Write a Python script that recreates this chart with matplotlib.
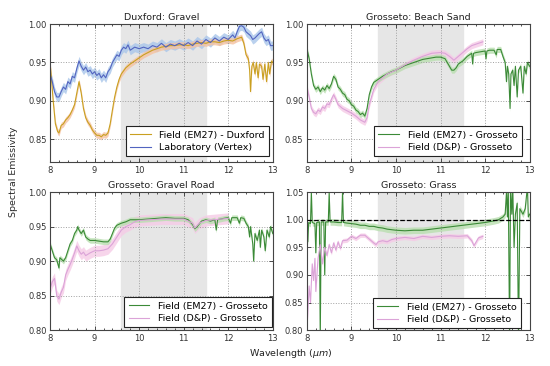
import matplotlib
matplotlib.use("Agg")
import matplotlib.pyplot as plt
from matplotlib.ticker import FormatStrFormatter, MultipleLocator
import numpy as np

# ---------------- data ----------------
dux_em27_x = [8.00, 8.03, 8.07, 8.12, 8.17, 8.20, 8.25, 8.30, 8.35, 8.40, 8.45, 8.50, 8.55, 8.60, 8.65,
              8.70, 8.75, 8.80, 8.85, 8.90, 8.95, 9.00, 9.05, 9.10, 9.15, 9.20, 9.25, 9.30, 9.35, 9.40,
              9.45, 9.50, 9.55, 9.60, 9.70, 9.80, 9.90, 10.00, 10.10, 10.20, 10.30, 10.40, 10.50, 10.60,
              10.70, 10.80, 10.90, 11.00, 11.10, 11.20, 11.30, 11.40, 11.50, 11.60, 11.70, 11.80, 11.90,
              12.00, 12.10, 12.20, 12.30, 12.35, 12.40, 12.45, 12.48, 12.50, 12.53, 12.56, 12.60, 12.63,
              12.67, 12.70, 12.75, 12.78, 12.82, 12.86, 12.90, 12.93, 12.97, 13.00]
dux_em27_y = [0.950, 0.930, 0.900, 0.870, 0.860, 0.858, 0.868, 0.870, 0.875, 0.878, 0.882, 0.888, 0.895, 0.910, 0.925,
              0.910, 0.890, 0.878, 0.872, 0.868, 0.862, 0.858, 0.855, 0.855, 0.853, 0.856, 0.855, 0.858, 0.870, 0.888,
              0.905, 0.918, 0.928, 0.935, 0.943, 0.948, 0.952, 0.956, 0.960, 0.963, 0.966, 0.968, 0.970, 0.971,
              0.972, 0.972, 0.973, 0.973, 0.972, 0.974, 0.975, 0.976, 0.975, 0.977, 0.977, 0.976, 0.978,
              0.979, 0.978, 0.981, 0.983, 0.975, 0.960, 0.955, 0.940, 0.912, 0.945, 0.950, 0.935, 0.950,
              0.930, 0.948, 0.945, 0.928, 0.948, 0.925, 0.950, 0.935, 0.952, 0.950]

dux_lab_x = [8.00, 8.05, 8.10, 8.15, 8.20, 8.25, 8.30, 8.35, 8.40, 8.45, 8.50, 8.55, 8.60, 8.65, 8.70,
             8.75, 8.80, 8.85, 8.90, 8.95, 9.00, 9.05, 9.10, 9.15, 9.20, 9.25, 9.30, 9.35, 9.40, 9.45,
             9.50, 9.55, 9.60, 9.65, 9.70, 9.75, 9.80, 9.90, 10.00, 10.10, 10.20, 10.30, 10.40, 10.50,
             10.60, 10.70, 10.80, 10.90, 11.00, 11.10, 11.20, 11.30, 11.40, 11.50, 11.60, 11.70, 11.80,
             11.90, 12.00, 12.10, 12.15, 12.20, 12.25, 12.30, 12.35, 12.40, 12.50, 12.55, 12.60, 12.70,
             12.75, 12.80, 12.85, 12.90, 12.95, 13.00]
dux_lab_y = [0.935, 0.925, 0.912, 0.905, 0.905, 0.912, 0.918, 0.915, 0.925, 0.922, 0.932, 0.930, 0.942, 0.952, 0.945,
             0.940, 0.944, 0.938, 0.940, 0.935, 0.938, 0.933, 0.936, 0.930, 0.934, 0.930, 0.938, 0.942, 0.950, 0.955,
             0.960, 0.958, 0.966, 0.970, 0.968, 0.973, 0.966, 0.970, 0.968, 0.970, 0.968, 0.972, 0.970, 0.975,
             0.970, 0.974, 0.972, 0.975, 0.972, 0.976, 0.972, 0.978, 0.974, 0.980, 0.976, 0.982, 0.978,
             0.983, 0.980, 0.986, 0.982, 0.990, 0.997, 0.998, 0.996, 0.990, 0.985, 0.980, 0.982, 0.988,
             0.990, 0.982, 0.978, 0.980, 0.972, 0.972]

sand_em27_x = [8.00, 8.05, 8.10, 8.15, 8.20, 8.25, 8.30, 8.35, 8.40, 8.45, 8.50, 8.55, 8.60, 8.65, 8.70,
               8.75, 8.80, 8.85, 8.90, 8.95, 9.00, 9.05, 9.10, 9.15, 9.20, 9.25, 9.30, 9.35, 9.40, 9.45,
               9.50, 9.55, 9.60, 9.70, 9.80, 9.90, 10.00, 10.10, 10.20, 10.30, 10.40, 10.50, 10.60, 10.70,
               10.80, 10.90, 11.00, 11.10, 11.15, 11.20, 11.25, 11.30, 11.35, 11.40, 11.50, 11.60, 11.70,
               11.72, 11.74, 11.80, 11.90, 12.00, 12.02, 12.04, 12.10, 12.20, 12.25, 12.27, 12.35, 12.40,
               12.45, 12.48, 12.50, 12.53, 12.56, 12.58, 12.62, 12.65, 12.68, 12.72, 12.75, 12.80, 12.85,
               12.88, 12.92, 12.95, 13.00]
sand_em27_y = [0.968, 0.955, 0.935, 0.920, 0.915, 0.918, 0.912, 0.917, 0.914, 0.920, 0.916, 0.922, 0.932, 0.928, 0.918,
               0.915, 0.910, 0.908, 0.902, 0.900, 0.895, 0.893, 0.888, 0.886, 0.882, 0.884, 0.880, 0.890, 0.908, 0.918,
               0.924, 0.926, 0.928, 0.932, 0.935, 0.938, 0.940, 0.943, 0.946, 0.948, 0.950, 0.952, 0.954, 0.955,
               0.956, 0.957, 0.957, 0.955, 0.950, 0.945, 0.940, 0.940, 0.943, 0.948, 0.952, 0.958, 0.962,
               0.948, 0.962, 0.963, 0.964, 0.965, 0.955, 0.965, 0.966, 0.966, 0.960, 0.967, 0.967, 0.958,
               0.950, 0.925, 0.945, 0.935, 0.890, 0.935, 0.940, 0.920, 0.945, 0.905, 0.940, 0.945, 0.910,
               0.945, 0.935, 0.950, 0.945]

sand_dp_x = [8.00, 8.05, 8.10, 8.15, 8.20, 8.25, 8.30, 8.35, 8.40, 8.45, 8.50, 8.55, 8.60, 8.65, 8.70,
             8.80, 8.90, 9.00, 9.10, 9.20, 9.30, 9.35, 9.40, 9.50, 9.60, 9.70, 9.80, 10.00, 10.20, 10.40,
             10.60, 10.80, 11.00, 11.10, 11.20, 11.30, 11.40, 11.50, 11.60, 11.70, 11.80, 11.90, 11.95]
sand_dp_y = [0.918, 0.905, 0.890, 0.885, 0.883, 0.888, 0.886, 0.892, 0.890, 0.896, 0.895, 0.902, 0.908, 0.902, 0.895,
             0.890, 0.887, 0.884, 0.880, 0.875, 0.872, 0.878, 0.895, 0.915, 0.925, 0.930, 0.935, 0.940, 0.947, 0.953,
             0.958, 0.962, 0.963, 0.962, 0.958, 0.953, 0.958, 0.963, 0.968, 0.972, 0.974, 0.976, 0.977]

road_em27_x = [8.00, 8.05, 8.10, 8.15, 8.20, 8.22, 8.30, 8.35, 8.40, 8.45, 8.50, 8.55, 8.60, 8.62, 8.65,
               8.70, 8.75, 8.80, 8.85, 8.90, 9.00, 9.10, 9.20, 9.30, 9.35, 9.40, 9.45, 9.50, 9.60, 9.70,
               9.80, 10.00, 10.20, 10.40, 10.60, 10.80, 11.00, 11.10, 11.20, 11.25, 11.30, 11.40, 11.50,
               11.60, 11.70, 11.73, 11.76, 11.90, 12.00, 12.05, 12.08, 12.20, 12.25, 12.28, 12.35, 12.40,
               12.45, 12.48, 12.50, 12.55, 12.57, 12.60, 12.65, 12.70, 12.72, 12.75, 12.80, 12.83, 12.87,
               12.92, 12.95, 13.00]
road_em27_y = [0.925, 0.915, 0.905, 0.902, 0.890, 0.905, 0.900, 0.905, 0.915, 0.925, 0.930, 0.940, 0.945, 0.950, 0.945,
               0.940, 0.945, 0.935, 0.932, 0.930, 0.930, 0.929, 0.928, 0.928, 0.932, 0.940, 0.948, 0.952, 0.955, 0.957,
               0.960, 0.960, 0.961, 0.962, 0.963, 0.962, 0.962, 0.960, 0.953, 0.947, 0.950, 0.958, 0.960,
               0.958, 0.960, 0.945, 0.960, 0.962, 0.963, 0.955, 0.963, 0.963, 0.955, 0.963, 0.962, 0.955,
               0.950, 0.935, 0.950, 0.925, 0.900, 0.940, 0.930, 0.945, 0.920, 0.945, 0.935, 0.915, 0.945,
               0.935, 0.950, 0.940]

road_dp_x = [8.00, 8.05, 8.10, 8.15, 8.20, 8.25, 8.30, 8.35, 8.40, 8.45, 8.50, 8.55, 8.60, 8.65, 8.70,
             8.75, 8.80, 8.90, 9.00, 9.10, 9.20, 9.30, 9.40, 9.50, 9.60, 9.70, 9.80, 9.90, 10.00, 10.50,
             11.00, 11.20, 11.25, 11.35, 11.50, 12.00]
road_dp_y = [0.860, 0.870, 0.875, 0.850, 0.845, 0.855, 0.862, 0.880, 0.888, 0.895, 0.903, 0.912, 0.922, 0.915, 0.910,
             0.913, 0.908, 0.912, 0.915, 0.915, 0.916, 0.918, 0.925, 0.935, 0.945, 0.950, 0.953, 0.957, 0.959, 0.961,
             0.961, 0.955, 0.948, 0.955, 0.959, 0.962]

grass_em27_x = [8.00, 8.02, 8.04, 8.08, 8.10, 8.12, 8.18, 8.20, 8.22, 8.28, 8.30, 8.32, 8.38, 8.40, 8.42,
                8.48, 8.50, 8.52, 8.60, 8.70, 8.78, 8.80, 8.82, 8.90, 9.00, 9.10, 9.20, 9.30, 9.40, 9.50,
                9.60, 9.70, 9.80, 9.90, 10.00, 10.20, 10.40, 10.60, 10.80, 11.00, 11.20, 11.40, 11.60,
                11.80, 12.00, 12.20, 12.30, 12.40, 12.45, 12.48, 12.50, 12.52, 12.55, 12.57, 12.60, 12.62,
                12.65, 12.68, 12.72, 12.75, 12.78, 12.85, 12.90, 12.95, 12.97, 13.00]
grass_em27_y = [0.995, 0.960, 0.995, 0.993, 1.050, 0.995, 0.993, 0.940, 0.995, 0.996, 0.780, 0.996, 0.996, 0.900, 0.996,
                0.996, 1.050, 0.996, 0.996, 0.995, 0.995, 1.050, 0.995, 0.994, 0.993, 0.992, 0.990, 0.990, 0.988, 0.988,
                0.986, 0.985, 0.983, 0.982, 0.981, 0.980, 0.981, 0.981, 0.983, 0.985, 0.987, 0.989, 0.991,
                0.993, 0.995, 0.998, 1.000, 1.005, 1.010, 1.050, 1.005, 1.060, 0.780, 1.060, 1.010, 1.060,
                0.950, 1.010, 1.030, 0.780, 1.020, 1.010, 1.020, 1.060, 1.005, 1.010]

grass_dp_x = [8.00, 8.05, 8.08, 8.12, 8.15, 8.18, 8.20, 8.25, 8.30, 8.35, 8.40, 8.45, 8.50, 8.55, 8.60,
              8.65, 8.70, 8.75, 8.80, 8.90, 9.00, 9.10, 9.20, 9.30, 9.40, 9.50, 9.55, 9.60, 9.70, 9.80,
              9.90, 10.00, 10.20, 10.40, 10.60, 10.80, 11.00, 11.20, 11.40, 11.60, 11.70, 11.75, 11.80,
              11.85, 11.95]
grass_dp_y = [0.800, 0.880, 0.850, 0.920, 0.890, 0.930, 0.870, 0.930, 0.955, 0.920, 0.950, 0.935, 0.955, 0.940, 0.958,
              0.945, 0.960, 0.948, 0.962, 0.963, 0.970, 0.966, 0.972, 0.972, 0.965, 0.958, 0.955, 0.960, 0.962, 0.960,
              0.964, 0.966, 0.968, 0.966, 0.970, 0.968, 0.970, 0.971, 0.970, 0.971, 0.962, 0.953, 0.960,
              0.967, 0.970]

titles = ["Duxford: Gravel", "Grosseto: Beach Sand", "Grosseto: Gravel Road", "Grosseto: Grass"]
ylims = [(0.82, 1.00), (0.82, 1.00), (0.80, 1.00), (0.80, 1.05)]

# ---------------- style ----------------
GOLD, GOLD_F = "#c9a020", "#f6c2a0"
BLUE, BLUE_F = "#5264c0", "#a9c6ea"
GREEN, GREEN_F = "#3b8a37", "#b9dfb0"
PINK, PINK_F = "#dba3d8", "#f6cbe6"
FS = 6.8

fig = plt.figure(figsize=(5.5, 3.66), dpi=100)
pos = [(0.091, 0.557, 0.405, 0.377), (0.558, 0.557, 0.405, 0.377),
       (0.091, 0.098, 0.405, 0.377), (0.558, 0.098, 0.405, 0.377)]
leg_anchor = [(0.982, 0.043), (0.964, 0.043), (0.996, 0.022), (0.960, 0.015)]
axes = [fig.add_axes(p) for p in pos]

series = [
    [(dux_em27_x, dux_em27_y, GOLD, GOLD_F, 0.004, "Field (EM27) - Duxford"),
     (dux_lab_x, dux_lab_y, BLUE, BLUE_F, 0.006, "Laboratory (Vertex)")],
    [(sand_em27_x, sand_em27_y, GREEN, GREEN_F, 0.004, "Field (EM27) - Grosseto"),
     (sand_dp_x, sand_dp_y, PINK, PINK_F, 0.004, "Field (D&P) - Grosseto")],
    [(road_em27_x, road_em27_y, GREEN, GREEN_F, 0.004, "Field (EM27) - Grosseto"),
     (road_dp_x, road_dp_y, PINK, PINK_F, 0.008, "Field (D&P) - Grosseto")],
    [(grass_em27_x, grass_em27_y, GREEN, GREEN_F, 0.006, "Field (EM27) - Grosseto"),
     (grass_dp_x, grass_dp_y, PINK, PINK_F, 0.004, "Field (D&P) - Grosseto")],
]

for i, ax in enumerate(axes):
    ax.axvspan(9.6, 11.5, color="#e6e6e6", zorder=0)
    handles = []
    for (x, y, c, fc, w, lab) in reversed(series[i]):
        x = np.asarray(x); y = np.asarray(y)
        ax.fill_between(x, y - w, y + w, color=fc, alpha=0.8, lw=0, zorder=1)
    for (x, y, c, fc, w, lab) in series[i]:
        h, = ax.plot(x, y, color=c, lw=0.8, label=lab, zorder=2)
        handles.append(h)
    if i == 3:
        ax.axhline(1.0, color="black", ls="--", lw=0.9, zorder=3)
    ax.set_xlim(8, 13)
    ax.set_ylim(*ylims[i])
    ax.set_xticks([8, 9, 10, 11, 12, 13])
    ax.xaxis.set_minor_locator(MultipleLocator(0.2))
    ax.set_yticks(np.arange(ylims[i][0] + (0.03 if ylims[i][0] == 0.82 else 0.0), ylims[i][1] + 1e-9, 0.05))
    ax.yaxis.set_major_formatter(FormatStrFormatter("%.2f"))
    ax.grid(True, which="major", color="#a0a0a0", ls=":", lw=0.7)
    ax.tick_params(which="both", direction="in", top=True, right=True, labelsize=6,
                   colors="#333333", width=0.6, pad=2.5)
    ax.tick_params(which="major", length=3)
    ax.tick_params(which="minor", length=1.5)
    for sp in ax.spines.values():
        sp.set_color("#444444")
        sp.set_linewidth(0.8)
    ax.set_title(titles[i], fontsize=FS, color="#222222", pad=3)
    leg = ax.legend(handles=handles, loc="lower right", fontsize=FS, frameon=True, fancybox=False,
                    framealpha=1, edgecolor="#222222", handlelength=2.2, handletextpad=0.9,
                    borderpad=0.45, labelspacing=0.35, borderaxespad=0,
                    bbox_to_anchor=leg_anchor[i])
    leg.get_frame().set_linewidth(0.8)

fig.text(0.025, 0.53, "Spectral Emissivity", rotation=90, va="center", ha="center",
         fontsize=FS, color="#2a2a2a")
fig.text(0.529, 0.035, r"Wavelength ($\mu m$)", ha="center", va="center", fontsize=FS, color="#222222")

fig.savefig("out.png", dpi=100)
